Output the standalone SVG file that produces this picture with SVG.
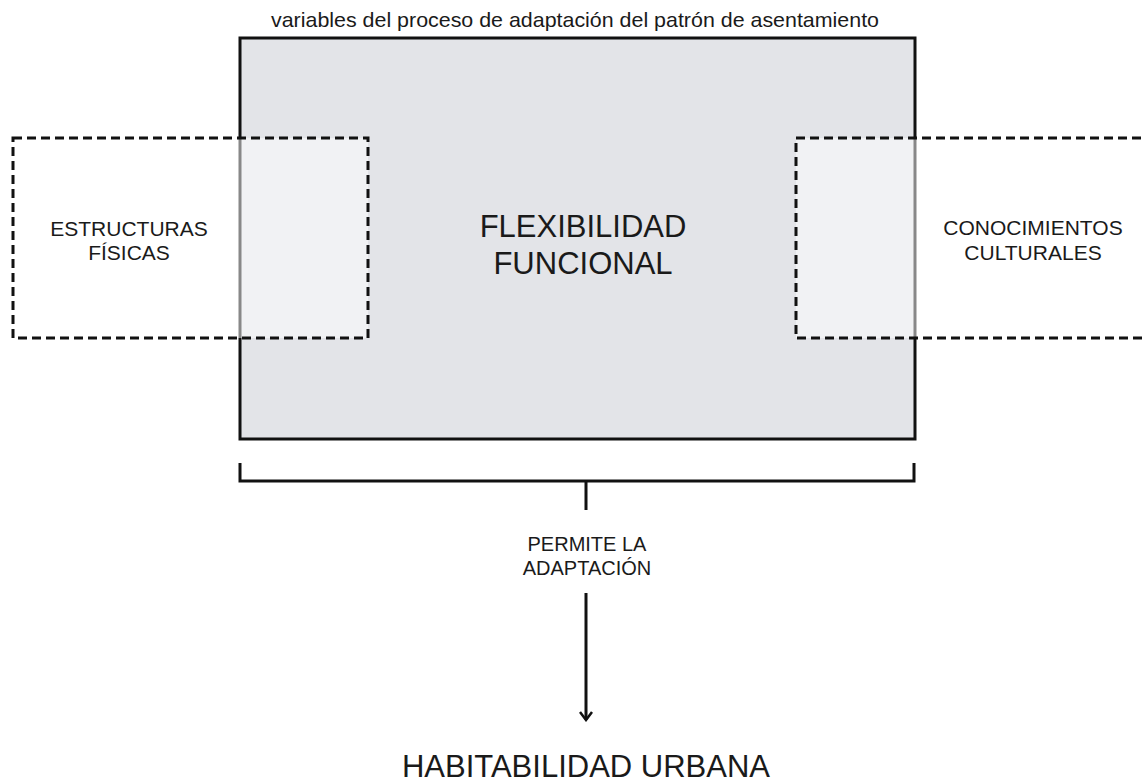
<svg xmlns="http://www.w3.org/2000/svg" width="1145" height="783" viewBox="0 0 1145 783">
  <style>
    text { font-family: "Liberation Sans", Arial, sans-serif; fill: #1a1a1a; text-anchor: middle; }
    .big { font-size: 31px; }
    .mid { font-size: 21px; }
    .small { font-size: 20px; }
    .dash { fill: #ffffff; fill-opacity: 0.5; stroke: #111; stroke-width: 3; stroke-dasharray: 9 5; }
    .line { fill: none; stroke: #111; stroke-width: 3; }
  </style>
  <defs>
    <marker id="arrow" viewBox="0 0 14 14" refX="12" refY="7" markerWidth="14" markerHeight="14" markerUnits="userSpaceOnUse" orient="auto">
      <path d="M4,1 L12,7 L4,13" fill="none" stroke="#111" stroke-width="2.5"/>
    </marker>
  </defs>
  <rect width="1145" height="783" fill="#ffffff"/>
  <text x="575" y="27" font-size="21" textLength="608" lengthAdjust="spacingAndGlyphs">variables del proceso de adaptación del patrón de asentamiento</text>
  <g id="flexibilidad">
    <rect x="240" y="38" width="675" height="401" fill="#e3e4e8" stroke="#111" stroke-width="3"/>
    <text class="big" x="583" y="237">FLEXIBILIDAD</text>
    <text class="big" x="583" y="274">FUNCIONAL</text>
  </g>
  <g id="estructuras">
    <rect class="dash" x="13" y="138" width="355" height="200"/>
    <text class="mid" x="129" y="236">ESTRUCTURAS</text>
    <text class="mid" x="129" y="260">FÍSICAS</text>
  </g>
  <g id="conocimientos">
    <rect class="dash" x="796" y="138" width="360" height="200"/>
    <text class="mid" x="1033" y="235">CONOCIMIENTOS</text>
    <text class="mid" x="1033" y="260">CULTURALES</text>
  </g>
  <g id="connectors">
    <path class="line" d="M240,463 V481 H914 V463 M586,481 V510"/>
    <line class="line" x1="586" y1="593" x2="586" y2="720" stroke-width="2.5" marker-end="url(#arrow)"/>
  </g>
  <g id="label">
    <text class="small" x="587" y="551">PERMITE LA</text>
    <text class="small" x="587" y="575">ADAPTACIÓN</text>
  </g>
  <g id="habitabilidad">
    <text class="big" x="586" y="777">HABITABILIDAD URBANA</text>
  </g>
</svg>
